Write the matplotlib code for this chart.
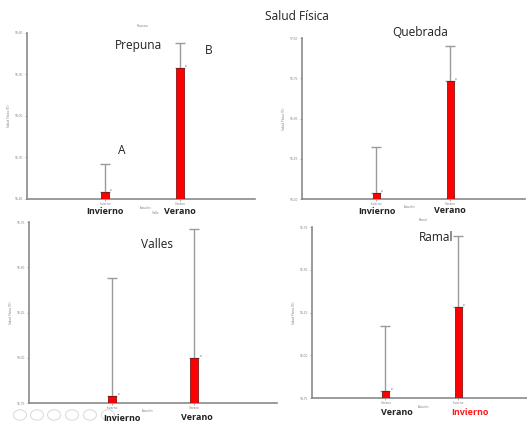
import matplotlib
matplotlib.use("Agg")
import matplotlib.pyplot as plt
from matplotlib.patches import Circle

W, H = 527, 423
plt.rcParams['font.family'] = ['Open Sans', 'DejaVu Sans']

# ---- data ----
main_title = "Salud Física"
panel_names = ["Prepuna", "Quebrada", "Valles", "Ramal"]
small_titles = ["Prepuna", "", "", "Ramal"]
cats_prepuna = ["Invierno", "Verano"]
cats_quebrada = ["Invierno", "Verano"]
cats_valles = ["Invierno", "Verano"]
cats_ramal = ["Verano", "Invierno"]

means_prepuna = [95.45, 96.35]
upper_prepuna = [95.65, 96.53]
means_quebrada = [96.04, 96.73]
upper_quebrada = [96.32, 96.95]
means_valles = [95.79, 96.00]
upper_valles = [96.44, 96.71]
means_ramal = [94.79, 95.28]
upper_ramal = [95.17, 95.70]

yticks_prepuna = [95.40, 95.70, 96.00, 96.30, 96.60]
yticks_quebrada = [96.00, 96.25, 96.50, 96.75, 97.00]
yticks_valles = [95.75, 96.00, 96.25, 96.50, 96.75]
yticks_ramal = [94.75, 95.00, 95.25, 95.50, 95.75]

letters_prepuna = ["A", "B"]
ramal_label_colors = ["#222222", "#ff1a1a"]

fig = plt.figure(figsize=(W / 100, H / 100), dpi=100)
fig.patch.set_facecolor("white")


def fx(x):
    return x / W


def fy(y):
    return 1 - y / H


def make_axes(l, t, r, b):
    return fig.add_axes([fx(l), fy(b), (r - l) / W, (b - t) / H])


panels = [
    ((27, 33, 255, 199), cats_prepuna, means_prepuna, upper_prepuna, yticks_prepuna, (-1.04, 2.0)),
    ((302, 38, 525, 199), cats_quebrada, means_quebrada, upper_quebrada, yticks_quebrada, (-1.0, 2.01)),
    ((29, 222, 277, 403), cats_valles, means_valles, upper_valles, yticks_valles, (-1.01, 2.01)),
    ((312, 227, 531, 398), cats_ramal, means_ramal, upper_ramal, yticks_ramal, (-1.01, 2.0)),
]

for box, cats, means, upper, yt, xl in panels:
    ax = make_axes(*box)
    x = list(range(len(cats)))
    lo = yt[0]
    ax.bar(x, [m - lo for m in means], bottom=lo, width=0.095,
           color="#ff0000", edgecolor="#6b0000", linewidth=0.5, zorder=3)
    ax.errorbar(x, means, yerr=[[0] * len(means), [u - m for u, m in zip(upper, means)]],
                fmt="none", ecolor="#9a9a9a", elinewidth=1.0, capsize=3.5, capthick=1.0, zorder=2)
    for xi, m in zip(x, means):
        ax.text(xi + 0.07, m, "a", fontsize=2.2, color="#555555", va="bottom", ha="left")
    ax.set_xlim(*xl)
    ax.set_ylim(yt[0], yt[-1])
    ax.set_yticks(yt)
    ax.set_yticklabels([f"{v:.2f}" for v in yt], fontsize=2.3, color="#777777")
    ax.set_xticks(x)
    ax.set_xticklabels(cats, fontsize=2.2, color="#777777")
    ax.tick_params(axis="both", length=1.5, width=0.5, color="#888888", pad=1)
    ax.set_ylabel("Salud Física (%)", fontsize=2.3, color="#777777", labelpad=3)
    for s in ["top", "right"]:
        ax.spines[s].set_visible(False)
    for s in ["left", "bottom"]:
        ax.spines[s].set_color("#8a8a8a")
        ax.spines[s].set_linewidth(1.2)
    ax.set_facecolor("none")

TS = 8.6
fig.text(fx(297), fy(16), main_title, fontsize=TS, ha="center", va="center", color="#222222")
fig.text(fx(138), fy(45), panel_names[0], fontsize=TS, ha="center", va="center", color="#222222")
fig.text(fx(420), fy(33), panel_names[1], fontsize=TS, ha="center", va="center", color="#222222")
fig.text(fx(157), fy(245), panel_names[2], fontsize=TS, ha="center", va="center", color="#222222")
fig.text(fx(436), fy(237), panel_names[3], fontsize=TS, ha="center", va="center", color="#222222")

fig.text(fx(209), fy(50), letters_prepuna[1], fontsize=TS, ha="center", va="center", color="#222222")
fig.text(fx(122), fy(151), letters_prepuna[0], fontsize=TS, ha="center", va="center", color="#222222")

fig.text(fx(143), fy(26), small_titles[0], fontsize=2.2, ha="center", va="center", color="#777777")
fig.text(fx(423), fy(220), small_titles[3], fontsize=2.2, ha="center", va="center", color="#777777")
fig.text(fx(155), fy(213), "Valle", fontsize=2.2, ha="center", va="center", color="#777777")
for (xx, yy) in [(146, 208), (410, 207), (147, 411), (423, 407)]:
    fig.text(fx(xx), fy(yy), "Estación", fontsize=2.2, ha="center", va="center", color="#777777")

big = [
    (105, 212, cats_prepuna[0], "#222222"), (180, 212, cats_prepuna[1], "#222222"),
    (377, 211, cats_quebrada[0], "#222222"), (450, 210, cats_quebrada[1], "#222222"),
    (122, 418, cats_valles[0], "#222222"), (197, 417, cats_valles[1], "#222222"),
    (397, 412, cats_ramal[0], ramal_label_colors[0]), (470, 412, cats_ramal[1], ramal_label_colors[1]),
]
for xx, yy, s, c in big:
    fig.text(fx(xx), fy(yy), s, fontsize=6.5, fontweight="bold", ha="center", va="center", color=c)

for cx in [20, 37, 54, 72, 90, 108]:
    fig.patches.append(Circle((fx(cx), fy(415)), 6.5 / W, transform=fig.transFigure,
                              fill=False, edgecolor="#dddddd", linewidth=0.8))

fig.savefig("out.png", dpi=100)
